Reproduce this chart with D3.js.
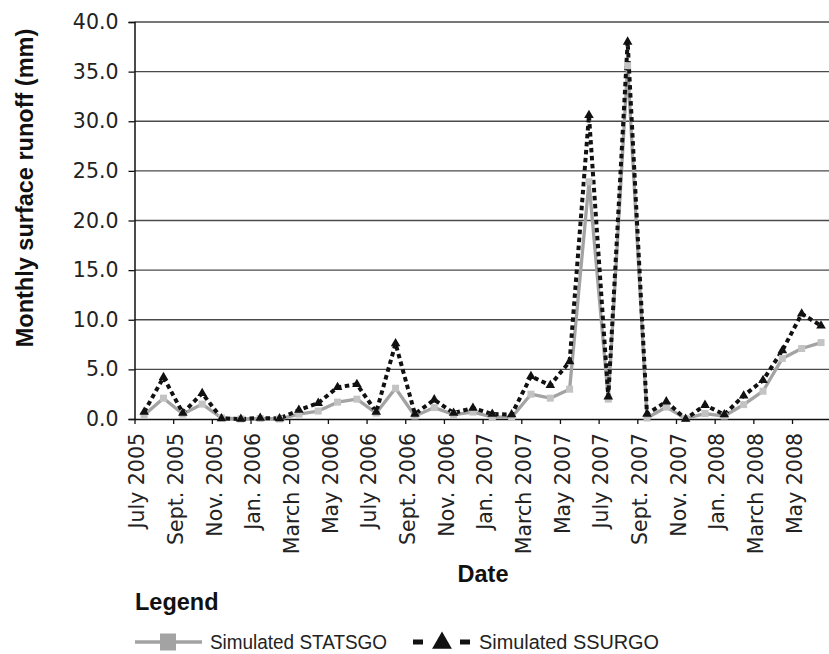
<!DOCTYPE html>
<html>
<head>
<meta charset="utf-8">
<script src="https://cdn.jsdelivr.net/npm/d3@7"></script>
<style>
  body { margin: 0; background: #fff; }
  svg { display: block; }
</style>
</head>
<body>
<div id="chart"></div>
<script>
(function(d3) {
    'use strict'

    // one entry per month, July 2005 - June 2008
    var months = ['July 2005', 'Aug. 2005', 'Sept. 2005', 'Oct. 2005', 'Nov. 2005', 'Dec. 2005',
        'Jan. 2006', 'Feb. 2006', 'March 2006', 'April 2006', 'May 2006', 'June 2006',
        'July 2006', 'Aug. 2006', 'Sept. 2006', 'Oct. 2006', 'Nov. 2006', 'Dec. 2006',
        'Jan. 2007', 'Feb. 2007', 'March 2007', 'April 2007', 'May 2007', 'June 2007',
        'July 2007', 'Aug. 2007', 'Sept. 2007', 'Oct. 2007', 'Nov. 2007', 'Dec. 2007',
        'Jan. 2008', 'Feb. 2008', 'March 2008', 'April 2008', 'May 2008', 'June 2008'];

    var statsgo = [0.4, 2.1, 0.5, 1.5, 0.1, 0.0, 0.05, 0.0, 0.5, 0.8, 1.7, 2.0,
        0.6, 3.1, 0.3, 1.15, 0.45, 0.7, 0.2, 0.15, 2.5, 2.1, 3.0, 23.9,
        2.0, 35.6, 0.1, 1.2, 0.05, 0.55, 0.3, 1.45, 2.8, 6.1, 7.1, 7.7];

    var ssurgo = [0.7, 4.2, 0.6, 2.6, 0.05, 0.0, 0.1, 0.05, 0.9, 1.6, 3.2, 3.5,
        0.7, 7.6, 0.5, 1.95, 0.6, 1.1, 0.5, 0.45, 4.3, 3.4, 5.8, 30.6,
        2.25, 38.0, 0.5, 1.75, 0.0, 1.4, 0.45, 2.35, 3.9, 6.9, 10.6, 9.4];

    var yTicks = [0, 5, 10, 15, 20, 25, 30, 35, 40];

    var width = 829;
    var height = 654;

    var svg = d3.select('#chart')
        .append('svg')
        .attr('width', width)
        .attr('height', height);

    // category index scale; ticks sit between every second month
    var x = d3.scaleLinear()
        .domain([0, months.length])
        .range([134.5, 830.7]);

    var y = d3.scaleLinear()
        .domain([0, 40])
        .range([419, 22]);

    // gridlines
    svg.append('g')
        .selectAll('line')
        .data(yTicks.slice(1))
        .enter()
        .append('line')
        .attr('x1', x(0))
        .attr('x2', width)
        .attr('y1', function(d) { return y(d); })
        .attr('y2', function(d) { return y(d); })
        .attr('stroke', '#4a4a4a')
        .attr('stroke-width', 1.4);

    // y axis
    var yAxis = svg.append('g')
        .attr('transform', 'translate(' + x(0) + ',0)')
        .call(d3.axisLeft(y)
            .tickValues(yTicks)
            .tickFormat(d3.format('.1f'))
            .tickSize(6)
            .tickPadding(10));
    yAxis.select('.domain').attr('stroke', '#111').attr('stroke-width', 1.5);
    yAxis.selectAll('.tick line').attr('stroke', '#111').attr('stroke-width', 1.3);
    yAxis.selectAll('text')
        .style('font-family', '"DejaVu Sans", sans-serif')
        .style('font-size', '20.5px')
        .attr('fill', '#222');

    // x axis
    var evenIdx = d3.range(0, months.length + 1, 2);
    var xAxis = svg.append('g')
        .attr('transform', 'translate(0,' + y(0) + ')')
        .call(d3.axisBottom(x)
            .tickValues(evenIdx)
            .tickFormat(function(i) { return months[i] || ''; })
            .tickSize(5)
            .tickSizeOuter(0));
    xAxis.select('.domain').attr('stroke', '#111').attr('stroke-width', 1.5);
    xAxis.selectAll('.tick line').attr('stroke', '#111').attr('stroke-width', 1.3);
    xAxis.selectAll('text')
        .attr('transform', 'rotate(-90)')
        .attr('x', -14)
        .attr('y', 2)
        .attr('dy', '0.35em')
        .style('text-anchor', 'end')
        .style('font-family', '"DejaVu Sans", sans-serif')
        .style('font-size', '20.5px')
        .attr('fill', '#222');

    var cx = function(d, i) { return x(i + 0.5); };

    var line = d3.line()
        .x(cx)
        .y(function(d) { return y(d); });

    svg.append('path')
        .datum(statsgo)
        .attr('d', line)
        .attr('fill', 'none')
        .attr('stroke', '#a3a3a3')
        .attr('stroke-width', 3.3)
        .attr('stroke-linejoin', 'round');

    svg.append('path')
        .datum(ssurgo)
        .attr('d', line)
        .attr('fill', 'none')
        .attr('stroke', '#111')
        .attr('stroke-width', 4)
        .attr('stroke-dasharray', '4.5,3.5');

    svg.append('g')
        .selectAll('rect')
        .data(statsgo)
        .enter()
        .append('rect')
        .attr('x', function(d, i) { return cx(d, i) - 3.5; })
        .attr('y', function(d) { return y(d) - 3.5; })
        .attr('width', 7)
        .attr('height', 7)
        .attr('fill', '#c3c3c3');

    var tri = d3.symbol().type(d3.symbolTriangle).size(40);

    svg.append('g')
        .selectAll('path')
        .data(ssurgo)
        .enter()
        .append('path')
        .attr('d', tri)
        .attr('transform', function(d, i) {
            return 'translate(' + cx(d, i) + ',' + y(d) + ')';
        })
        .attr('fill', '#111');

    // axis titles
    svg.append('text')
        .attr('transform', 'translate(33,188) rotate(-90)')
        .attr('text-anchor', 'middle')
        .style('font-family', '"Liberation Sans", Arial, sans-serif')
        .style('font-weight', 'bold')
        .style('font-size', '23.5px')
        .attr('fill', '#111')
        .text('Monthly surface runoff (mm)');

    svg.append('text')
        .attr('x', 483)
        .attr('y', 582)
        .attr('text-anchor', 'middle')
        .style('font-family', '"Liberation Sans", Arial, sans-serif')
        .style('font-weight', 'bold')
        .style('font-size', '23.5px')
        .attr('fill', '#111')
        .text('Date');

    // legend
    svg.append('text')
        .attr('x', 135)
        .attr('y', 610)
        .style('font-family', '"Liberation Sans", Arial, sans-serif')
        .style('font-weight', 'bold')
        .style('font-size', '23.5px')
        .attr('fill', '#111')
        .text('Legend');

    var legend = svg.append('g');
    var legY = 642;

    legend.append('line')
        .attr('x1', 135).attr('x2', 202)
        .attr('y1', legY).attr('y2', legY)
        .attr('stroke', '#a3a3a3')
        .attr('stroke-width', 3.5);
    legend.append('rect')
        .attr('x', 160).attr('y', legY - 8.5)
        .attr('width', 16).attr('height', 17)
        .attr('fill', '#a3a3a3');
    legend.append('text')
        .attr('x', 210).attr('y', legY + 7)
        .attr('textLength', 177)
        .attr('lengthAdjust', 'spacingAndGlyphs')
        .style('font-family', '"Liberation Sans", Arial, sans-serif')
        .style('font-size', '20.5px')
        .attr('fill', '#222')
        .text('Simulated STATSGO');

    legend.append('rect')
        .attr('x', 413).attr('y', legY - 2.5)
        .attr('width', 10).attr('height', 5)
        .attr('fill', '#111');
    legend.append('path')
        .attr('d', d3.symbol().type(d3.symbolTriangle).size(170))
        .attr('transform', 'translate(442,' + (legY + 1) + ')')
        .attr('fill', '#111');
    legend.append('rect')
        .attr('x', 460).attr('y', legY - 2.5)
        .attr('width', 10).attr('height', 5)
        .attr('fill', '#111');
    legend.append('text')
        .attr('x', 479).attr('y', legY + 7)
        .attr('textLength', 180)
        .attr('lengthAdjust', 'spacingAndGlyphs')
        .style('font-family', '"Liberation Sans", Arial, sans-serif')
        .style('font-size', '20.5px')
        .attr('fill', '#222')
        .text('Simulated SSURGO');

})(window.d3);
</script>
</body>
</html>
